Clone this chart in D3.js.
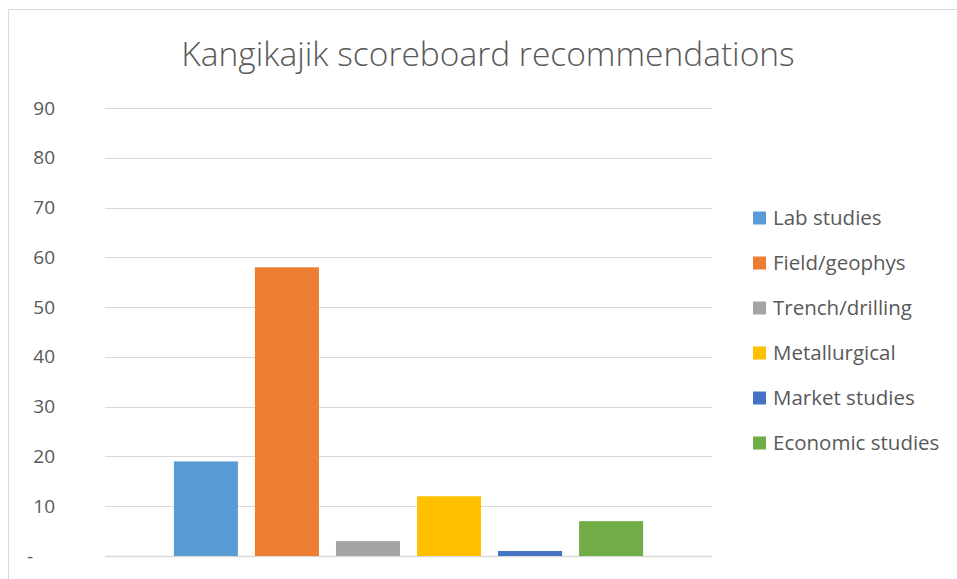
<!DOCTYPE html>
<html>
<head>
<meta charset="utf-8">
<script src="https://cdn.jsdelivr.net/npm/d3@7"></script>
<style>
  body { margin: 0; background: #fff; }
  svg { display: block; font-family: "Open Sans", sans-serif; }
</style>
</head>
<body>
<div id="chart"></div>
<script>
const title = 'Kangikajik scoreboard recommendations';
const seriesNames = ['Lab studies', 'Field/geophys', 'Trench/drilling', 'Metallurgical', 'Market studies', 'Economic studies'];
const seriesValues = [19, 58, 3, 12, 1, 7];
const seriesColors = ['#5b9bd5', '#ed7d31', '#a5a5a5', '#ffc000', '#4472c4', '#70ad47'];
const yTicks = [0, 10, 20, 30, 40, 50, 60, 70, 80, 90];

const width = 957;
const height = 579;
const plot = { left: 105, right: 712, top: 108, bottom: 556 };

const svg = d3.select('#chart').append('svg')
  .attr('width', width)
  .attr('height', height);

// chart area border
svg.append('rect')
  .attr('x', 8.5)
  .attr('y', 9.5)
  .attr('width', width)
  .attr('height', height)
  .attr('fill', '#fff')
  .attr('stroke', '#d9d9d9')
  .attr('stroke-width', 1);

// Title
svg.append('text')
  .attr('x', 488)
  .attr('y', 66)
  .attr('text-anchor', 'middle')
  .attr('font-size', 33.5)
  .attr('font-weight', 300)
  .attr('fill', '#595959')
  .text(title);

// Scales
const x = d3.scaleBand()
  .domain(seriesNames)
  .range([plot.left, plot.right])
  .paddingInner(0.21)
  .paddingOuter(0.85);

const y = d3.scaleLinear()
  .domain([0, 90])
  .range([plot.bottom, plot.top]);

// Gridlines
svg.append('g')
  .selectAll('line')
  .data(yTicks)
  .join('line')
  .attr('x1', plot.left)
  .attr('x2', plot.right)
  .attr('y1', d => Math.round(y(d)) + 0.5)
  .attr('y2', d => Math.round(y(d)) + 0.5)
  .attr('stroke', '#d9d9d9')
  .attr('stroke-width', d => d === 0 ? 1.5 : 1);

// Y axis labels
const yAxis = d3.axisLeft(y)
  .tickValues(yTicks)
  .tickSize(0)
  .tickPadding(0)
  .tickFormat(d => d === 0 ? '-' : d);

const yG = svg.append('g')
  .attr('transform', 'translate(55,0)')
  .call(yAxis);
yG.select('.domain').remove();
yG.selectAll('text')
  .attr('font-family', '"Open Sans", sans-serif')
  .attr('font-size', 19)
  .attr('fill', '#595959')
  .attr('dx', d => d === 0 ? -22 : 0);

// Bars
svg.append('g')
  .selectAll('rect')
  .data(seriesValues)
  .join('rect')
  .attr('x', (d, i) => x(seriesNames[i]))
  .attr('y', d => y(d))
  .attr('width', x.bandwidth())
  .attr('height', d => y(0) - y(d))
  .attr('fill', (d, i) => seriesColors[i]);

// Legend
const legend = svg.append('g')
  .attr('transform', 'translate(753,218)');

const item = legend.selectAll('g')
  .data(seriesNames)
  .join('g')
  .attr('transform', (d, i) => 'translate(0,' + i * 45 + ')');

item.append('rect')
  .attr('x', 0)
  .attr('y', -6.5)
  .attr('width', 13)
  .attr('height', 13)
  .attr('fill', (d, i) => seriesColors[i]);

item.append('text')
  .attr('x', 20)
  .attr('y', 0)
  .attr('dy', '0.35em')
  .attr('font-size', 20.5)
  .attr('fill', '#595959')
  .text(d => d);
</script>
</body>
</html>
